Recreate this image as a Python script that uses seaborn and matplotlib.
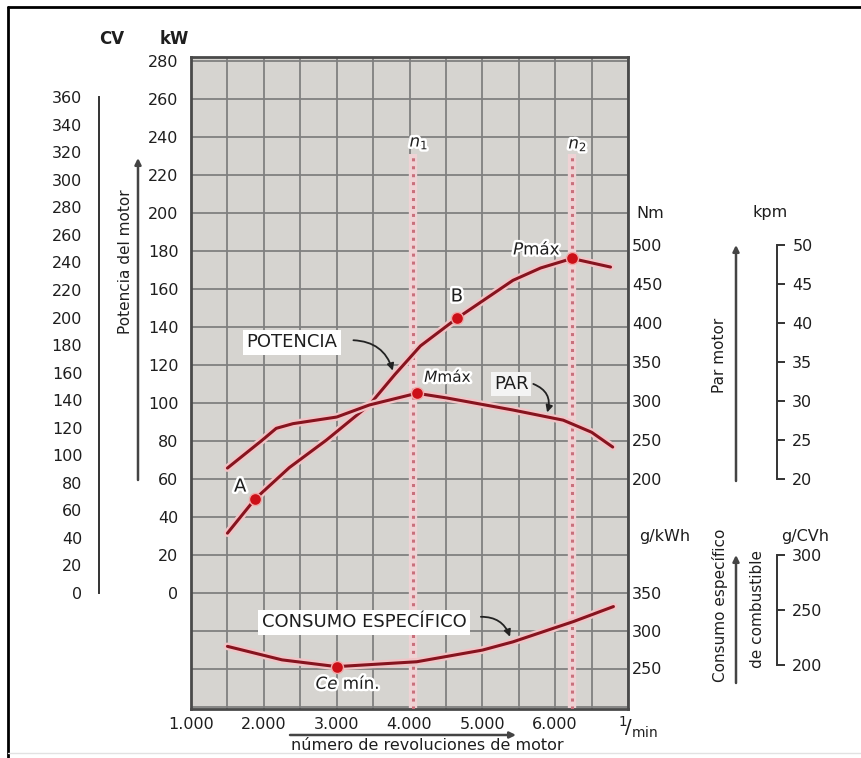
import numpy as np
import pandas as pd
import matplotlib
matplotlib.use("Agg")
import matplotlib.pyplot as plt
import matplotlib.patheffects as pe
from matplotlib.lines import Line2D
import seaborn as sns

# ---------------- data ----------------
rpm_ticks = [1000, 2000, 3000, 4000, 5000, 6000]
rpm_tick_labels = ["1.000", "2.000", "3.000", "4.000", "5.000", "6.000"]
kw_ticks = list(range(0, 281, 20))
cv_ticks = list(range(0, 361, 20))
nm_ticks = [200, 250, 300, 350, 400, 450, 500]
kpm_ticks = [20, 25, 30, 35, 40, 45, 50]
gkwh_ticks = [250, 300, 350]
gcvh_ticks = [200, 250, 300]

potencia_rpm = [1500, 1880, 2350, 2860, 3450, 3800, 4150, 4650, 5420, 5800, 6230, 6760]
potencia_kw = [31.5, 49.5, 66, 80.5, 99, 115, 130, 144.5, 164.5, 171, 176, 171.5]

par_rpm = [1500, 1980, 2170, 2400, 3000, 3450, 4100, 4510, 5420, 6110, 6500, 6790]
par_nm = [214, 250, 265, 271, 279.5, 295, 310, 304, 288.5, 275.5, 260, 241]

consumo_rpm = [1500, 2250, 3000, 4100, 5000, 5420, 6250, 6800]
consumo_gkwh = [279, 261, 252, 258.5, 274, 285, 312, 332]

pot_mark_labels = ["A", "B", "Pmáx"]
pot_mark_rpm = [1880, 4650, 6230]
pot_mark_kw = [49.5, 144.5, 176]
mmax_rpm, mmax_nm = 4100, 310
cemin_rpm, cemin_g = 3000, 252
n1_rpm, n2_rpm = 4050, 6230

# ---------------- scale conversions (all drawn in kW units) ----------------
KW_PER_CV = 1 / 1.38
def nm_y(v): return 60 + (np.asarray(v, dtype=float) - 200) * 0.41
def kpm_y(v): return nm_y(np.asarray(v, dtype=float) * 10)
def gkwh_y(v): return (np.asarray(v, dtype=float) - 350) * 0.395
def gcvh_y(v): return 20 + (np.asarray(v, dtype=float) - 300) * 0.58

df_pot = pd.DataFrame({"rpm": potencia_rpm, "y": potencia_kw})
df_par = pd.DataFrame({"rpm": par_rpm, "y": nm_y(par_nm)})
df_con = pd.DataFrame({"rpm": consumo_rpm, "y": gkwh_y(consumo_gkwh)})
df_marks = pd.DataFrame({
    "rpm": pot_mark_rpm + [mmax_rpm, cemin_rpm],
    "y": pot_mark_kw + [float(nm_y(mmax_nm)), float(gkwh_y(cemin_g))],
})

# ---------------- figure ----------------
sns.set_theme(style="white")
plt.rcParams["font.family"] = ["DejaVu Sans"]
plt.rcParams["mathtext.fontset"] = "dejavusans"

W, H = 861, 758
fig = plt.figure(figsize=(W / 100, H / 100), dpi=100)
fig.patch.set_facecolor("white")

def rect(x0, ytop, w, h):
    return [x0 / W, 1 - (ytop + h) / H, w / W, h / H]
def fx(px): return px / W
def fy(py): return 1 - py / H

YLIM = (-61, 282)
TXT = "#1e1e1e"

ax = fig.add_axes(rect(191, 57, 437, 652))
ax.set_xlim(1000, 7000)
ax.set_ylim(*YLIM)
ax.set_facecolor("#d6d4d0")

# grid
ax.set_xticks(np.arange(1000, 7001, 500), minor=True)
ax.set_yticks(np.arange(-60, 281, 20), minor=True)
ax.set_xticks(rpm_ticks)
ax.set_xticklabels(rpm_tick_labels)
ax.set_yticks(kw_ticks)
ax.set_yticklabels([str(v) for v in kw_ticks])
ax.grid(which="both", color="#808080", lw=1.3)
ax.set_axisbelow(True)
ax.tick_params(axis="both", which="both", length=0)
ax.tick_params(axis="x", labelsize=11.5, pad=6, labelcolor=TXT)
ax.tick_params(axis="y", labelsize=11.5, pad=9, labelcolor=TXT)
for s in ax.spines.values():
    s.set_color("#4a4a4a")
    s.set_linewidth(2)

# n1, n2 dotted lines
for n in (n1_rpm, n2_rpm):
    ax.plot([n, n], [YLIM[0], 231], color="#efd3d5", lw=6, solid_capstyle="butt", zorder=2)
    ax.plot([n, n], [YLIM[0], 231], color="#c9707c", lw=2.2, ls=(0, (1, 1.6)), zorder=3)
halo = [pe.withStroke(linewidth=3.5, foreground="white")]
ax.text(n1_rpm + 80, 237, r"$n_1$", fontsize=12, ha="center", va="center", color=TXT, path_effects=halo)
ax.text(n2_rpm + 80, 236, r"$n_2$", fontsize=12, ha="center", va="center", color=TXT, path_effects=halo)

# curves
curve_pe = [pe.Stroke(linewidth=5.5, foreground="#f1c4c6"), pe.Normal()]
for d in (df_pot, df_par, df_con):
    sns.lineplot(data=d, x="rpm", y="y", ax=ax, color="#86141f", lw=2.2,
                 path_effects=curve_pe, zorder=5, legend=False)
sns.scatterplot(data=df_marks, x="rpm", y="y", ax=ax, color="#cc1018", s=75,
                edgecolor="#f2a8a8", linewidth=1, zorder=6, legend=False)
ax.set_xlabel("")
ax.set_ylabel("")

# point labels
ax.text(1675, 56, "A", fontsize=13, ha="center", va="center", color=TXT, path_effects=halo)
ax.text(4650, 156, "B", fontsize=13, ha="center", va="center", color=TXT, path_effects=halo)
ax.text(5750, 181, r"$P$máx", fontsize=12, ha="center", va="center", color=TXT, path_effects=halo)
ax.text(4530, 114, r"$M$máx", fontsize=11, ha="center", va="center", color=TXT, path_effects=halo)
ax.text(3150, -47.5, r"$Ce$ mín.", fontsize=12, ha="center", va="center", color=TXT, path_effects=halo)

box = dict(boxstyle="square,pad=0.2", fc="white", ec="none")
ax.text(2390, 132, "POTENCIA", fontsize=13, ha="center", va="center", color=TXT, bbox=box, zorder=7)
ax.text(5400, 110, "PAR", fontsize=13, ha="center", va="center", color=TXT,
        bbox=dict(boxstyle="square,pad=0.15", fc="#f4f4f4", ec="none"), zorder=7)
ax.text(3380, -15.3, "CONSUMO ESPECÍFICO", fontsize=13, ha="center", va="center", color=TXT, bbox=box, zorder=7)

arrow_kw = dict(arrowstyle="-|>", color="#222222", lw=1.3, mutation_scale=10, shrinkA=0, shrinkB=0)
ax.annotate("", xy=(3770, 117), xytext=(3230, 133),
            arrowprops=dict(connectionstyle="arc3,rad=-0.35", **arrow_kw), zorder=8)
ax.annotate("", xy=(5890, 95), xytext=(5700, 110),
            arrowprops=dict(connectionstyle="arc3,rad=-0.45", **arrow_kw), zorder=8)
ax.annotate("", xy=(5380, -23), xytext=(4980, -12.5),
            arrowprops=dict(connectionstyle="arc3,rad=-0.35", **arrow_kw), zorder=8)

# right-hand labels (Nm and g/kWh) next to plot
axr = ax.twinx()
axr.set_ylim(*YLIM)
axr.set_yticks(list(nm_y(nm_ticks)) + list(gkwh_y(gkwh_ticks)))
axr.set_yticklabels([str(v) for v in nm_ticks] + [str(v) for v in gkwh_ticks])
axr.tick_params(axis="y", length=0, pad=3, labelsize=11.5, labelcolor=TXT)
axr.grid(False)
for s in axr.spines.values():
    s.set_visible(False)

# CV axis
axcv = fig.add_axes(rect(99, 57, 1, 652))
axcv.set_ylim(*YLIM)
axcv.patch.set_alpha(0)
axcv.set_xticks([])
axcv.set_yticks([v * KW_PER_CV for v in cv_ticks])
axcv.set_yticklabels([str(v) for v in cv_ticks])
axcv.tick_params(axis="y", direction="out", length=6, width=1.4, color="#333333",
                 pad=6, labelsize=11.5, labelcolor=TXT)
for k, s in axcv.spines.items():
    s.set_visible(k == "left")
axcv.spines["left"].set_bounds(0, 360 * KW_PER_CV)
axcv.spines["left"].set_color("#333333")
axcv.spines["left"].set_linewidth(1.4)

# kpm axis
axk = fig.add_axes(rect(776, 57, 1, 652))
axk.set_ylim(*YLIM)
axk.patch.set_alpha(0)
axk.set_xticks([])
axk.yaxis.tick_right()
axk.set_yticks(list(kpm_y(kpm_ticks)))
axk.set_yticklabels([str(v) for v in kpm_ticks])
axk.tick_params(axis="y", direction="out", length=6, width=1.4, color="#333333",
                pad=5, labelsize=11.5, labelcolor=TXT)
for k, s in axk.spines.items():
    s.set_visible(k == "right")
axk.spines["right"].set_bounds(float(kpm_y(20)), float(kpm_y(50)))
axk.spines["right"].set_color("#333333")
axk.spines["right"].set_linewidth(1.4)

# g/CVh axis
axg = fig.add_axes(rect(776, 57, 1, 652))
axg.set_ylim(*YLIM)
axg.patch.set_alpha(0)
axg.set_xticks([])
axg.yaxis.tick_right()
axg.set_yticks(list(gcvh_y(gcvh_ticks)))
axg.set_yticklabels([str(v) for v in gcvh_ticks])
axg.tick_params(axis="y", direction="out", length=6, width=1.4, color="#333333",
                pad=5, labelsize=11.5, labelcolor=TXT)
for k, s in axg.spines.items():
    s.set_visible(k == "right")
axg.spines["right"].set_bounds(float(gcvh_y(200)), float(gcvh_y(300)))
axg.spines["right"].set_color("#333333")
axg.spines["right"].set_linewidth(1.4)

# unit labels
fig.text(fx(112), fy(39), "CV", fontsize=12, fontweight="bold", ha="center", va="center", color=TXT)
fig.text(fx(174), fy(39), "kW", fontsize=12, fontweight="bold", ha="center", va="center", color=TXT)
fig.text(fx(650), fy(213), "Nm", fontsize=11.5, ha="center", va="center", color=TXT)
fig.text(fx(770), fy(213), "kpm", fontsize=11.5, ha="center", va="center", color=TXT)
fig.text(fx(665), fy(537), "g/kWh", fontsize=11.5, ha="center", va="center", color=TXT)
fig.text(fx(805), fy(537), "g/CVh", fontsize=11.5, ha="center", va="center", color=TXT)
fig.text(fx(638), fy(727), r"$^{1}\!/_{\mathrm{min}}$", fontsize=14, ha="center", va="center", color=TXT)

# rotated axis titles and arrows
fig.text(fx(125), fy(262), "Potencia del motor", fontsize=11, rotation=90, ha="center", va="center", color=TXT)
fig.text(fx(720), fy(355), "Par motor", fontsize=11, rotation=90, ha="center", va="center", color=TXT)
fig.text(fx(720), fy(605), "Consumo específico", fontsize=11, rotation=90, ha="center", va="center", color=TXT)
fig.text(fx(757), fy(609), "de combustible", fontsize=11, rotation=90, ha="center", va="center", color=TXT)
fig.text(fx(427), fy(746), "número de revoluciones de motor", fontsize=11.5, ha="center", va="center", color=TXT)

farrow = dict(arrowstyle="-|>", color="#444444", lw=1.8, mutation_scale=9, shrinkA=0, shrinkB=0)
for (x0, y0, x1, y1) in [(138, 480, 138, 158), (736, 481, 736, 245), (736, 683, 736, 555), (290, 735, 516, 735)]:
    ax.annotate("", xy=(fx(x1), fy(y1)), xycoords="figure fraction",
                xytext=(fx(x0), fy(y0)), textcoords="figure fraction",
                arrowprops=farrow, annotation_clip=False)

# outer frame (left and top edges)
fig.add_artist(Line2D([fx(8), fx(8)], [0, fy(7)], color="black", lw=2))
fig.add_artist(Line2D([fx(8), 1], [fy(7), fy(7)], color="black", lw=2))
fig.add_artist(Line2D([fx(8), 1], [fy(753), fy(753)], color="#e2e2e2", lw=1))

fig.savefig("out.png", dpi=100)
